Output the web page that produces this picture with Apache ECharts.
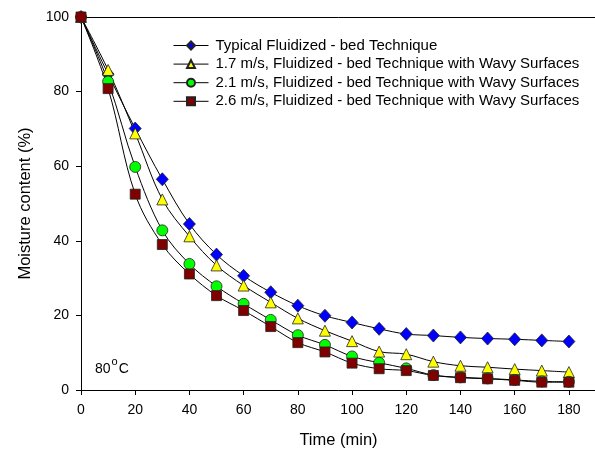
<!DOCTYPE html>
<html>
<head>
<meta charset="utf-8">
<script src="https://cdn.jsdelivr.net/npm/echarts@6/dist/echarts.min.js"></script>
<style>
  html, body { margin: 0; padding: 0; background: #fff; }
  #chart { width: 595px; height: 450px; }
</style>
</head>
<body>
<div id="chart"></div>
<script>
// time in minutes
const times = [0, 10, 20, 30, 40, 50, 60, 70, 80, 90, 100, 110, 120, 130, 140, 150, 160, 170, 180];

const seriesNames = [
    'Typical Fluidized - bed Technique',
    '1.7 m/s, Fluidized - bed Technique with Wavy Surfaces',
    '2.1 m/s, Fluidized - bed Technique with Wavy Surfaces',
    '2.6 m/s, Fluidized - bed Technique with Wavy Surfaces'
];

const typical = [100, 84.7, 70.1, 56.5, 44.5, 36.3, 30.6, 26.2, 22.6, 19.9, 18.1, 16.4, 15.0, 14.6, 14.1, 13.8, 13.6, 13.3, 13.0];
const wavy17 = [100, 85.8, 68.8, 51.1, 41.2, 33.4, 28.0, 23.5, 19.2, 15.9, 13.1, 10.3, 9.6, 7.6, 6.5, 6.1, 5.6, 5.2, 4.8];
const wavy21 = [100, 82.7, 59.8, 42.8, 33.8, 27.8, 23.1, 18.8, 14.7, 12.1, 9.0, 7.3, 5.8, 4.0, 3.4, 3.1, 2.7, 2.3, 2.2];
const wavy26 = [100, 80.8, 52.5, 39.0, 31.1, 25.3, 21.3, 17.0, 12.7, 10.2, 7.2, 5.7, 5.2, 3.9, 3.3, 3.0, 2.6, 2.1, 2.1];

const xTicks = { min: 0, max: 190, step: 20 };
const yTicks = { min: 0, max: 100, step: 20 };

const font = 'Liberation Sans, Arial, sans-serif';

const makeSeries = (name, values, symbol, size, color) => ({
    name: name,
    type: 'line',
    data: times.map((t, i) => [t, values[i]]),
    smooth: 0.35,
    symbol: symbol,
    symbolSize: size,
    showAllSymbol: true,
    lineStyle: { color: '#000', width: 1 },
    itemStyle: { color: color, borderColor: '#222', borderWidth: 0.8 },
    emphasis: { disabled: true }
});

const chart = echarts.init(document.getElementById('chart'), null, { renderer: 'canvas' });

chart.setOption({
    animation: false,
    backgroundColor: '#fff',
    textStyle: { fontFamily: font },
    grid: { left: 81, right: -1, top: 17, bottom: 60, containLabel: false, outerBoundsMode: 'none' },
    legend: {
        orient: 'vertical',
        left: 173,
        top: 38,
        padding: 0,
        itemWidth: 35,
        itemHeight: 10,
        itemGap: 3.6,
        lineStyle: { width: 1 },
        textStyle: { fontSize: 15, lineHeight: 15, color: '#000', fontFamily: font, padding: [0, 0, 0, 2] },
        data: seriesNames
    },
    xAxis: [
        {
            type: 'value',
            min: xTicks.min,
            max: xTicks.max,
            interval: xTicks.step,
            name: 'Time (min)',
            nameLocation: 'middle',
            nameGap: 42,
            nameTextStyle: { fontSize: 16.5, color: '#000', fontFamily: font },
            axisLine: { lineStyle: { color: '#000', width: 1 } },
            axisTick: { show: true, inside: false, length: 5, lineStyle: { color: '#000' } },
            axisLabel: { fontSize: 14, color: '#000', margin: 13, showMaxLabel: false },
            splitLine: { show: false }
        },
        {
            type: 'value',
            position: 'top',
            min: xTicks.min,
            max: xTicks.max,
            axisLine: { show: true, lineStyle: { color: '#000', width: 1 } },
            axisTick: { show: false },
            axisLabel: { show: false },
            splitLine: { show: false }
        }
    ],
    yAxis: {
        type: 'value',
        min: yTicks.min,
        max: yTicks.max,
        interval: yTicks.step,
        name: 'Moisture content (%)',
        nameLocation: 'middle',
        nameGap: 47,
        nameTextStyle: { fontSize: 16.5, color: '#000', fontFamily: font },
        axisLine: { show: true, lineStyle: { color: '#000', width: 1 } },
        axisTick: { show: true, inside: false, length: 5, lineStyle: { color: '#000' } },
        axisLabel: { fontSize: 14, color: '#000', margin: 12 },
        splitLine: { show: false }
    },
    graphic: [
        {
            type: 'text',
            left: 95,
            top: 356,
            style: {
                text: '{n|80}{s|o}{n|C}',
                rich: {
                    n: { fontSize: 14, fontFamily: font, fill: '#000', verticalAlign: 'bottom', lineHeight: 20 },
                    s: { fontSize: 11, fontFamily: font, fill: '#000', verticalAlign: 'top', lineHeight: 20, padding: [0, 1, 10, 1] }
                }
            }
        }
    ],
    series: [
        makeSeries(seriesNames[0], typical, 'diamond', [12, 13], '#0000ff'),
        makeSeries(seriesNames[1], wavy17, 'triangle', 11, '#ffff00'),
        makeSeries(seriesNames[2], wavy21, 'circle', 11, '#00ff00'),
        makeSeries(seriesNames[3], wavy26, 'rect', 10, '#800000')
    ]
});
</script>
</body>
</html>
